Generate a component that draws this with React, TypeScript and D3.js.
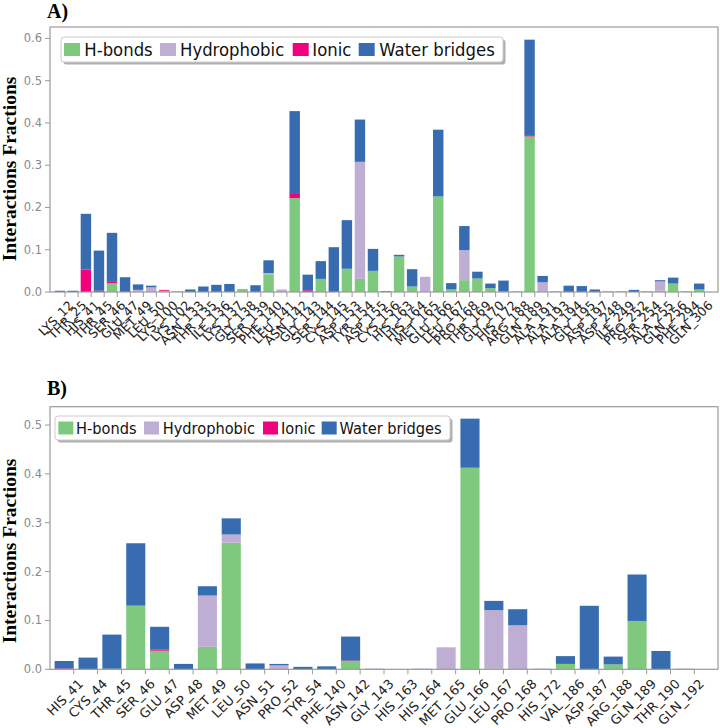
import React from "react";
import * as d3 from "d3";

const seriesKeys = ["H-bonds", "Hydrophobic", "Ionic", "Water bridges"];
const seriesColors = ["#7fc97f", "#beaed4", "#f0027f", "#386cb0"];

// Panel A
const residuesA = ["LYS_12","THR_25","HIS_41","THR_45","SER_46","GLU_47","MET_49","LEU_50","LYS_100","LYS_102","ASN_133","THR_135","ILE_136","LYS_137","GLY_138","SER_139","PHE_140","LEU_141","ASN_142","GLY_143","SER_144","CYS_145","ASP_153","TYR_154","ASP_155","CYS_156","HIS_163","HIS_164","MET_165","GLU_166","LEU_167","PRO_168","THR_169","GLY_170","HIS_172","ARG_188","GLN_189","ALA_191","ALA_193","ALA_194","GLY_195","ASP_197","ASP_248","ILE_249","PRO_252","SER_254","ALA_255","GLN_256","PHE_294","GLN_306"];
const hbondsA = [0,0,0,0,0.021,0,0,0,0,0,0,0,0,0,0.007,0,0.042,0,0.222,0,0.031,0,0.055,0.031,0.050,0,0.084,0.013,0,0.226,0.006,0.028,0.032,0.009,0.001,0,0.368,0,0,0,0,0,0,0,0,0,0.003,0.020,0,0.006];
const hydrophobicA = [0,0,0,0,0,0,0.005,0.011,0.003,0,0,0,0,0,0,0,0.003,0.006,0,0,0,0,0,0.277,0,0,0,0,0.036,0,0,0.071,0,0,0,0,0,0.023,0,0,0,0,0,0,0,0,0.022,0,0,0];
const ionicA = [0,0,0.053,0.003,0.003,0,0,0,0.002,0,0,0,0,0,0,0,0,0,0.012,0.004,0,0,0,0,0,0,0,0,0,0,0,0,0,0,0,0,0.003,0,0,0,0,0,0,0,0,0,0,0,0,0];
const waterA = [0.003,0.003,0.132,0.095,0.116,0.035,0.013,0.004,0,0.001,0.006,0.013,0.017,0.019,0,0.016,0.030,0,0.194,0.037,0.042,0.106,0.115,0.100,0.052,0.002,0.004,0.041,0,0.158,0.015,0.057,0.016,0.011,0.026,0.001,0.226,0.015,0.001,0.015,0.014,0.006,0.001,0.001,0.005,0.001,0.003,0.014,0.001,0.014];
const yTicksA = [0, 0.1, 0.2, 0.3, 0.4, 0.5, 0.6];

// Panel B
const residuesB = ["HIS_41","CYS_44","THR_45","SER_46","GLU_47","ASP_48","MET_49","LEU_50","ASN_51","PRO_52","TYR_54","PHE_140","ASN_142","GLY_143","HIS_163","HIS_164","MET_165","GLU_166","LEU_167","PRO_168","HIS_172","VAL_186","ASP_187","ARG_188","GLN_189","THR_190","GLN_192"];
const hbondsB = [0,0,0.001,0.130,0.038,0,0.046,0.259,0,0,0,0,0.017,0,0,0,0,0.412,0.001,0,0,0.011,0,0.010,0.099,0,0];
const hydrophobicB = [0,0,0,0,0,0,0.105,0.017,0,0.008,0,0,0,0,0,0,0.045,0,0.120,0.090,0,0,0,0,0,0,0];
const ionicB = [0.002,0,0,0.001,0.002,0,0,0,0,0,0,0,0.001,0,0,0,0,0.001,0,0,0,0,0,0,0,0,0];
const waterB = [0.015,0.024,0.070,0.127,0.047,0.011,0.019,0.033,0.012,0.003,0.005,0.006,0.049,0.001,0,0.001,0,0.100,0.019,0.033,0.001,0.016,0.130,0.016,0.095,0.0375,0.001];
const yTicksB = [0, 0.1, 0.2, 0.3, 0.4, 0.5];

type PanelProps = {
  title: string;
  residues: string[];
  series: number[][];
  yTicks: number[];
  frame: { x0: number; x1: number; y0: number; y1: number };
  xDomain: [number, number];
  yMax: number;
  tickFont: number;
  labelFont: number;
  labelOff: [number, number];
  legend: { x: number; y: number; w: number; h: number; font: number; sw: number; sh: number; swX: number[]; txX: number[] };
  titleY: number;
  ylabelY: number;
};

function Panel(p: PanelProps) {
  const { frame } = p;
  const x = d3.scaleLinear().domain(p.xDomain).range([frame.x0, frame.x1]);
  const y = d3.scaleLinear().domain([0, p.yMax]).range([frame.y1, frame.y0]);
  const rows = p.residues.map((r, i) => {
    const o: any = { res: r, idx: i };
    seriesKeys.forEach((k, j) => (o[k] = p.series[j][i]));
    return o;
  });
  const stacked = d3.stack<any>().keys(seriesKeys)(rows);
  const bw = x(0.8) - x(0);
  const grey = "#9a9a9a";
  return (
    <g>
      <text x={47} y={p.titleY} fontFamily="'Liberation Serif', serif" fontWeight="bold" fontSize={20}>{p.title}</text>
      <text transform={`translate(16,${p.ylabelY}) rotate(-90)`} textAnchor="middle" fontFamily="'Liberation Serif', serif" fontWeight="bold" fontSize={19.5}>Interactions Fractions</text>
      {stacked.map((layer, j) => (
        <g key={j} fill={seriesColors[j]}>
          {layer.map((d, i) => {
            const h = y(d[0]) - y(d[1]);
            if (h <= 0) return null;
            return <rect key={i} x={x(i)} y={y(d[1])} width={bw} height={h} />;
          })}
        </g>
      ))}
      <rect x={frame.x0} y={frame.y0} width={frame.x1 - frame.x0} height={frame.y1 - frame.y0} fill="none" stroke={grey} strokeWidth={1.2} />
      {p.yTicks.map((t) => (
        <g key={t}>
          <line x1={frame.x0 - 5} x2={frame.x0} y1={y(t)} y2={y(t)} stroke={grey} />
          <text x={frame.x0 - 8} y={y(t)} dy="0.35em" textAnchor="end" fontFamily="'DejaVu Sans', sans-serif" fontSize={p.tickFont} fill="#8a8a8a">{t.toFixed(1)}</text>
        </g>
      ))}
      {p.residues.map((r, i) => {
        const tx = x(i + 0.8);
        return (
          <g key={r}>
            <line x1={tx} x2={tx} y1={frame.y1} y2={frame.y1 + 5} stroke={grey} />
            <text transform={`translate(${tx + p.labelOff[0]},${frame.y1 + p.labelOff[1]}) rotate(-45)`} textAnchor="end" dy="0.7em" fontFamily="'DejaVu Sans', sans-serif" fontSize={p.labelFont} fill="#222">{r}</text>
          </g>
        );
      })}
      <g>
        <rect x={p.legend.x + 2.5} y={p.legend.y + 2.5} width={p.legend.w} height={p.legend.h} rx={3} fill="#b0b0b0" />
        <rect x={p.legend.x} y={p.legend.y} width={p.legend.w} height={p.legend.h} rx={3} fill="#fff" stroke="#cccccc" />
        {seriesKeys.map((k, j) => (
          <g key={k}>
            <rect x={p.legend.swX[j]} y={p.legend.y + (p.legend.h - p.legend.sh) / 2} width={p.legend.sw} height={p.legend.sh} fill={seriesColors[j]} />
            <text transform={`translate(${p.legend.txX[j]},${p.legend.y + p.legend.h / 2}) scale(1,1.08)`} dy="0.36em" fontFamily="'DejaVu Sans', sans-serif" fontSize={p.legend.font} fill="#111">{k}</text>
          </g>
        ))}
      </g>
    </g>
  );
}

export default function App() {
  return (
    <svg width={720} height={728} style={{ position: "absolute", left: 0, top: 0, background: "#fff" }}>
      <rect width={720} height={728} fill="#fff" />
      <Panel
        title="A)"
        residues={residuesA}
        series={[hbondsA, hydrophobicA, ionicA, waterA]}
        yTicks={yTicksA}
        frame={{ x0: 50, x1: 718, y0: 27, y1: 292 }}
        xDomain={[-0.352, 50.84]}
        yMax={0.627}
        tickFont={11.5}
        labelFont={12.5}
        labelOff={[3, 8]}
        legend={{ x: 61, y: 37, w: 442, h: 25, font: 16.5, sw: 16, sh: 13, swX: [64, 160, 292.7, 358.7], txX: [84.3, 180, 312.3, 379.3] }}
        titleY={18}
        ylabelY={169}
      />
      <Panel
        title="B)"
        residues={residuesB}
        series={[hbondsB, hydrophobicB, ionicB, waterB]}
        yTicks={yTicksB}
        frame={{ x0: 50, x1: 718, y0: 406.7, y1: 669.3 }}
        xDomain={[-0.193, 27.79]}
        yMax={0.5375}
        tickFont={11.5}
        labelFont={13}
        labelOff={[4, 9]}
        legend={{ x: 55, y: 416, w: 395, h: 24, font: 14.6, sw: 15, sh: 13, swX: [58.3, 144, 263, 321.7], txX: [76, 162.7, 281, 339.5] }}
        titleY={395}
        ylabelY={551}
      />
    </svg>
  );
}
